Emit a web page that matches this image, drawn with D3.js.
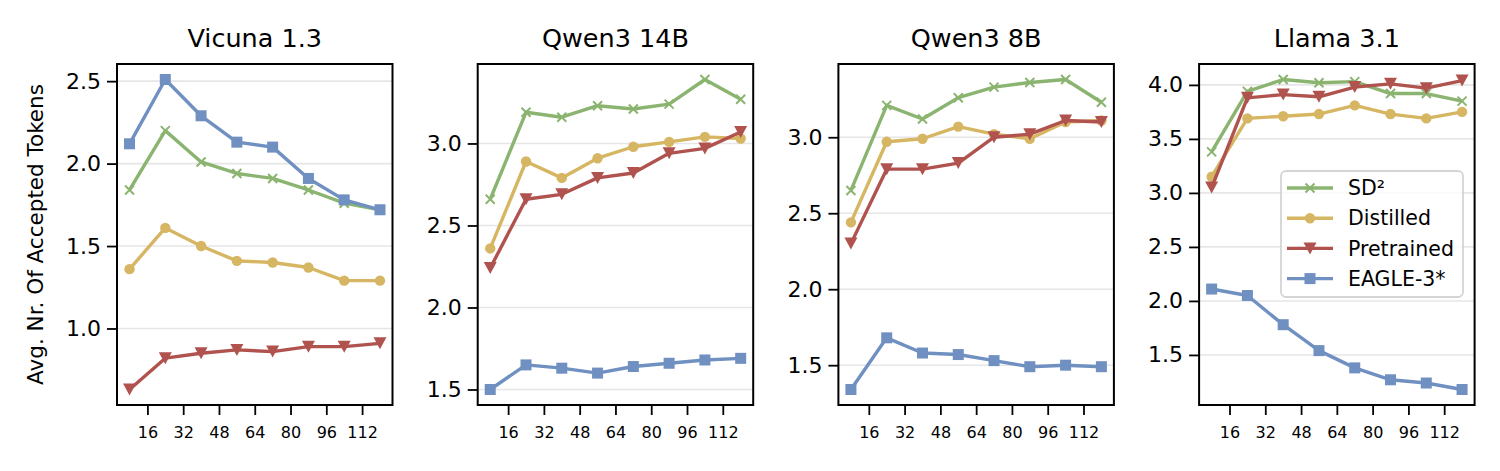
<!DOCTYPE html>
<html>
<head>
  <title>Avg. Nr. Of Accepted Tokens</title>
  <script src="https://d3js.org/d3.v7.min.js"></script>
  <style>
    body { margin: 0; background: #fff; }
    text { font-family: "DejaVu Sans", sans-serif; fill: #000; }
  </style>
</head>
<body>
  <div id="chart"></div>
  <script>
    // positions on the x axis and the labelled ticks
    var positions = [8, 24, 40, 56, 72, 88, 104, 120];
    var xTicks = [16, 32, 48, 64, 80, 96, 112];

    var models = ["Vicuna 1.3", "Qwen3 14B", "Qwen3 8B", "Llama 3.1"];
    var methods = ["SD²", "Distilled", "Pretrained", "EAGLE-3*"];
    var yTicks = [
      [1.0, 1.5, 2.0, 2.5],
      [1.5, 2.0, 2.5, 3.0],
      [1.5, 2.0, 2.5, 3.0],
      [1.5, 2.0, 2.5, 3.0, 3.5, 4.0]
    ];

    // one row per model, in the order of models
    var sd2 = [
      [1.84, 2.20, 2.01, 1.94, 1.91, 1.84, 1.76, 1.72],
      [2.66, 3.19, 3.16, 3.23, 3.21, 3.24, 3.39, 3.27],
      [2.65, 3.21, 3.12, 3.26, 3.33, 3.36, 3.38, 3.23],
      [3.38, 3.94, 4.05, 4.02, 4.03, 3.92, 3.92, 3.85]
    ];
    var distilled = [
      [1.36, 1.61, 1.50, 1.41, 1.40, 1.37, 1.29, 1.29],
      [2.36, 2.89, 2.79, 2.91, 2.98, 3.01, 3.04, 3.03],
      [2.44, 2.97, 2.99, 3.07, 3.02, 2.99, 3.10, 3.11],
      [3.15, 3.69, 3.71, 3.73, 3.81, 3.73, 3.69, 3.75]
    ];
    var pretrained = [
      [0.63, 0.82, 0.85, 0.87, 0.86, 0.89, 0.89, 0.91],
      [2.24, 2.66, 2.69, 2.79, 2.82, 2.94, 2.97, 3.07],
      [2.30, 2.79, 2.79, 2.83, 3.00, 3.02, 3.11, 3.10],
      [3.05, 3.88, 3.91, 3.89, 3.98, 4.01, 3.97, 4.04]
    ];
    var eagle = [
      [2.12, 2.51, 2.29, 2.13, 2.10, 1.91, 1.78, 1.72],
      [1.50, 1.65, 1.63, 1.60, 1.64, 1.66, 1.68, 1.69],
      [1.34, 1.68, 1.58, 1.57, 1.53, 1.49, 1.50, 1.49],
      [2.11, 2.05, 1.78, 1.54, 1.38, 1.27, 1.24, 1.18]
    ];

    var series = [sd2, distilled, pretrained, eagle];
    var colors = ["#8ab46f", "#d6b662", "#b0534e", "#7090c2"];
    var markers = ["x", "circle", "triangle", "square"];

    var width = 1500, height = 471;
    var panelTop = 64, panelBottom = 405;
    var panelW = 275.5, panelStep = 360.7, firstLeft = 117;

    var svg = d3.select("#chart")
      .append("svg")
      .attr("width", width)
      .attr("height", height);

    function drawMarker(g, type, color) {
      if (type === "x") {
        g.append("path")
          .attr("d", "M-4.5,-4.5L4.5,4.5M-4.5,4.5L4.5,-4.5")
          .attr("stroke", color)
          .attr("stroke-width", 2)
          .attr("fill", "none");
      } else if (type === "circle") {
        g.append("circle").attr("r", 5.2).attr("fill", color);
      } else if (type === "triangle") {
        g.append("path").attr("d", "M-6.5,-6L6.5,-6L0,6Z").attr("fill", color);
      } else {
        g.append("rect")
          .attr("x", -5.5).attr("y", -5.5)
          .attr("width", 11).attr("height", 11)
          .attr("fill", color);
      }
    }

    var x = d3.scaleLinear()
      .domain([2.4, 125.6])
      .range([0, panelW]);

    models.forEach(function(model, m) {
      var left = firstLeft + m * panelStep;
      var g = svg.append("g")
        .attr("transform", "translate(" + left + "," + panelTop + ")");
      var h = panelBottom - panelTop;

      // matplotlib-like 5% margin on the data range
      var all = [];
      series.forEach(function(s) { all = all.concat(s[m]); });
      var lo = d3.min(all), hi = d3.max(all), pad = (hi - lo) * 0.05;
      var y = d3.scaleLinear()
        .domain([lo - pad, hi + pad])
        .range([h, 0]);

      // grid
      g.append("g")
        .selectAll("line")
        .data(yTicks[m])
        .enter().append("line")
        .attr("x1", 0).attr("x2", panelW)
        .attr("y1", d => y(d)).attr("y2", d => y(d))
        .attr("stroke", "#e6e6e6")
        .attr("stroke-width", 1.6);

      var line = d3.line()
        .x((d, i) => x(positions[i]))
        .y(d => y(d));

      series.forEach(function(s, k) {
        g.append("path")
          .datum(s[m])
          .attr("fill", "none")
          .attr("stroke", colors[k])
          .attr("stroke-width", 3.4)
          .attr("stroke-linejoin", "round")
          .attr("d", line);
        s[m].forEach(function(v, i) {
          var mg = g.append("g")
            .attr("transform", "translate(" + x(positions[i]) + "," + y(v) + ")");
          drawMarker(mg, markers[k], colors[k]);
        });
      });

      // axes
      var yAxis = g.append("g")
        .call(d3.axisLeft(y).tickValues(yTicks[m]).tickFormat(d3.format(".1f")).tickSize(10).tickPadding(6));
      yAxis.select(".domain").remove();
      yAxis.selectAll("line").attr("stroke", "#000").attr("stroke-width", 1.8);
      yAxis.selectAll("text").style("font-size", "22px").attr("fill", "#000");

      var xAxis = g.append("g")
        .attr("transform", "translate(0," + h + ")")
        .call(d3.axisBottom(x).tickValues(xTicks).tickSize(10).tickPadding(12));
      xAxis.select(".domain").remove();
      xAxis.selectAll("line").attr("stroke", "#000").attr("stroke-width", 1.8);
      xAxis.selectAll("text").style("font-size", "16px").attr("fill", "#000");

      g.append("rect")
        .attr("width", panelW)
        .attr("height", h)
        .attr("fill", "none")
        .attr("stroke", "#000")
        .attr("stroke-width", 2);

      g.append("text")
        .attr("x", panelW / 2)
        .attr("y", 46.7 - panelTop)
        .attr("text-anchor", "middle")
        .style("font-size", "25.5px")
        .text(model);
    });

    svg.append("text")
      .attr("transform", "translate(43," + (panelTop + panelBottom) / 2 + ") rotate(-90)")
      .attr("text-anchor", "middle")
      .style("font-size", "21.5px")
      .text("Avg. Nr. Of Accepted Tokens");

    // legend in the last panel
    var legend = svg.append("g").attr("transform", "translate(1281,171)");
    legend.append("rect")
      .attr("width", 182)
      .attr("height", 126)
      .attr("rx", 5)
      .attr("fill", "#fff")
      .attr("fill-opacity", 0.8)
      .attr("stroke", "#d4d4d4")
      .attr("stroke-width", 1.8);

    methods.forEach(function(name, k) {
      var row = legend.append("g")
        .attr("transform", "translate(0," + (17 + k * 30.2) + ")");
      row.append("line")
        .attr("x1", 6).attr("x2", 52)
        .attr("stroke", colors[k])
        .attr("stroke-width", 3.4);
      var mg = row.append("g").attr("transform", "translate(29,0)");
      drawMarker(mg, markers[k], colors[k]);
      row.append("text")
        .attr("x", 67)
        .attr("dy", "0.35em")
        .style("font-size", "20.5px")
        .text(name);
    });
  </script>
</body>
</html>
